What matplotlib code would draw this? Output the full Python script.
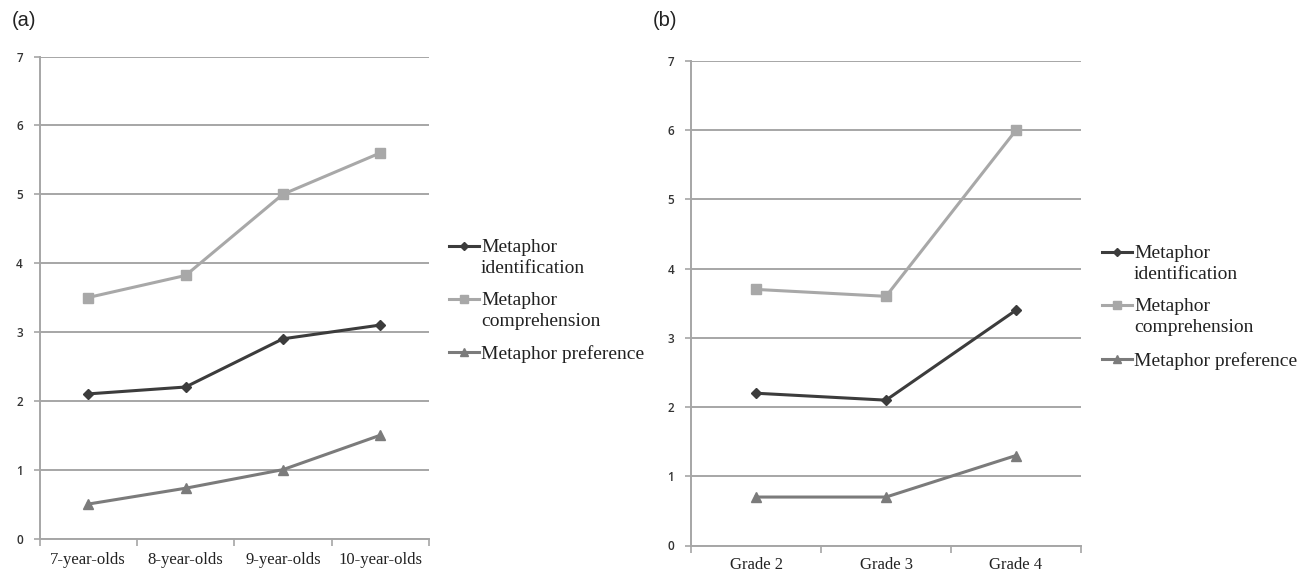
import matplotlib
matplotlib.use("Agg")
import matplotlib.pyplot as plt
from matplotlib.lines import Line2D

# ---------------- data ----------------
ages = ["7-year-olds", "8-year-olds", "9-year-olds", "10-year-olds"]
a_identification = [2.1, 2.2, 2.9, 3.1]
a_comprehension = [3.5, 3.82, 5.0, 5.6]
a_preference = [0.5, 0.73, 1.0, 1.5]

grades = ["Grade 2", "Grade 3", "Grade 4"]
b_identification = [2.2, 2.1, 3.4]
b_comprehension = [3.7, 3.6, 6.0]
b_preference = [0.7, 0.7, 1.3]

series_names = ["Metaphor\nidentification", "Metaphor\ncomprehension", "Metaphor preference"]
y_ticks = [0, 1, 2, 3, 4, 5, 6, 7]

# ---------------- styles ----------------
colors = ["#3c3c3c", "#a8a8a8", "#7b7b7b"]
markers = ["D", "s", "^"]
msizes = [5.5, 7.5, 7.5]
grid_color = "#a6a6a6"

W, H = 1304, 573
fig = plt.figure(figsize=(W / 100, H / 100), dpi=100)


def px(x0, y0, x1, y1):
    return [x0 / W, 1 - y1 / H, (x1 - x0) / W, (y1 - y0) / H]


def panel(rect, cats, data, xpad):
    ax = fig.add_axes(rect)
    n = len(cats)
    xs = list(range(1, n + 1))
    for vals, c, m, ms in zip(data, colors, markers, msizes):
        ax.plot(xs, vals, color=c, lw=2.2, marker=m, markersize=ms,
                markerfacecolor=c, markeredgecolor=c, zorder=3, clip_on=False)
    ax.set_xlim(0.5, n + 0.5)
    ax.set_ylim(0, 7)
    ax.set_yticks(y_ticks)
    ax.set_yticklabels([str(t) for t in y_ticks], fontfamily="Open Sans",
                       fontsize=8.5, fontweight="semibold", color="#333333")
    ax.tick_params(axis="y", length=4, width=1.2, color=grid_color, pad=8)
    ax.set_xticks([i + 0.5 for i in range(0, n + 1)])
    ax.set_xticklabels([""] * (n + 1))
    ax.tick_params(axis="x", which="major", length=5, width=1.2, color=grid_color)
    ax.set_xticks(xs, minor=True)
    ax.set_xticklabels(cats, minor=True, fontfamily="Liberation Serif",
                       fontsize=12, color="#222222")
    ax.tick_params(axis="x", which="minor", length=0, pad=xpad)
    ax.yaxis.grid(True, color=grid_color, lw=1.4)
    ax.set_axisbelow(True)
    for s in ["top", "right"]:
        ax.spines[s].set_visible(False)
    for s in ["left", "bottom"]:
        ax.spines[s].set_color(grid_color)
        ax.spines[s].set_linewidth(1.4)
    return ax


axa = panel(px(39.5, 56.5, 429, 538.5), ages,
            [a_identification, a_comprehension, a_preference], 9.5)
axb = panel(px(691, 61, 1081, 545.5), grades,
            [b_identification, b_comprehension, b_preference], 8)

fig.text(12 / W, 1 - 21 / H, "(a)", fontfamily="Liberation Sans", fontsize=14.5,
         va="center", ha="left", color="#222222")
fig.text(653 / W, 1 - 21 / H, "(b)", fontfamily="Liberation Sans", fontsize=14.5,
         va="center", ha="left", color="#222222")


def legend(x_handle, x_text, ys):
    for name, c, m, ms, y in zip(series_names, colors, markers, msizes, ys):
        fig.add_artist(Line2D([x_handle / W, (x_text - 2) / W], [1 - y / H, 1 - y / H],
                              transform=fig.transFigure, color=c, lw=2.2))
        fig.add_artist(Line2D([(x_handle + x_text - 2) / 2 / W], [1 - y / H],
                              transform=fig.transFigure, color=c, marker=m,
                              markersize=ms * 0.8, markerfacecolor=c,
                              markeredgecolor=c, lw=0))
        fig.text(x_text / W, 1 - (y - 7) / H, name, fontfamily="Liberation Serif",
                 fontsize=14, va="top", ha="left", color="#222222",
                 linespacing=1.3)


legend(449, 481, [246, 299, 352])
legend(1102, 1134, [252, 305, 359])

fig.savefig("out.png", dpi=100)
